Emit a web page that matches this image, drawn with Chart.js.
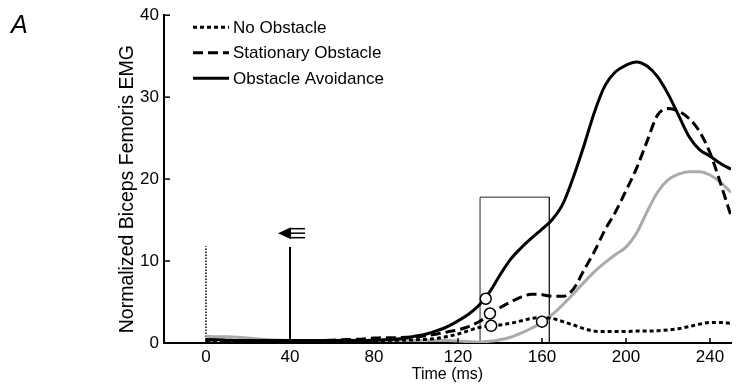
<!DOCTYPE html>
<html>
<head>
<meta charset="utf-8">
<script src="https://cdn.jsdelivr.net/npm/chart.js@4.4.1/dist/chart.umd.min.js"></script>
<style>
  body { margin: 0; background: #fff; }
  #wrap { position: relative; width: 738px; height: 386px; }
</style>
</head>
<body>
<div id="wrap"><canvas class="js-chart" width="738" height="386"></canvas></div>
<script>
const ctx = document.querySelector(".js-chart").getContext("2d");
const FONT = "'Liberation Sans', Arial, Helvetica, sans-serif";

// ===== data =====
const TIME_MS = [0, 5, 10, 15, 20, 25, 30, 35, 40, 45, 50, 55, 60, 65, 70, 75, 80, 85, 90, 95,
  100, 105, 110, 115, 120, 125, 130, 135, 140, 145, 150, 155, 160, 165, 170, 175, 180, 185, 190, 195,
  200, 205, 210, 215, 220, 225, 230, 235, 240, 245, 250];

const NO_OBSTACLE = [0.3, 0.3, 0.3, 0.3, 0.3, 0.3, 0.3, 0.3, 0.3, 0.3, 0.3, 0.3, 0.3, 0.3, 0.3, 0.3, 0.3, 0.3, 0.35, 0.35,
  0.4, 0.45, 0.55, 0.8, 1.1, 1.5, 1.9, 2.1, 2.2, 2.4, 2.7, 3.0, 3.1, 3.0, 2.6, 2.2, 1.75, 1.45, 1.4, 1.4,
  1.4, 1.45, 1.45, 1.5, 1.6, 1.75, 2.0, 2.3, 2.5, 2.5, 2.4];

const STATIONARY = [0.4, 0.35, 0.3, 0.3, 0.3, 0.3, 0.3, 0.3, 0.3, 0.3, 0.3, 0.3, 0.35, 0.4, 0.45, 0.5, 0.6, 0.65, 0.65, 0.7,
  0.75, 0.9, 1.1, 1.35, 1.6, 2.0, 2.6, 3.4, 4.3, 5.0, 5.6, 5.95, 5.9, 5.7, 5.7, 6.6, 8.9, 11.2, 13.8, 16.0,
  18.6, 21.3, 24.6, 27.8, 28.6, 28.3, 27.4, 25.8, 23.2, 19.5, 15.5];

const AVOIDANCE = [0.4, 0.4, 0.35, 0.3, 0.3, 0.3, 0.3, 0.3, 0.3, 0.3, 0.3, 0.3, 0.3, 0.3, 0.3, 0.3, 0.35, 0.4, 0.45, 0.6,
  0.85, 1.1, 1.5, 2.0, 2.7, 3.5, 4.6, 6.2, 8.3, 10.2, 11.6, 12.8, 13.9, 15.1, 17.0, 20.3, 24.1, 28.2, 31.4, 33.1,
  33.9, 34.3, 33.8, 32.5, 30.4, 27.8, 25.2, 23.6, 22.8, 21.9, 21.2];

const GREY_TRACE = [0.8, 0.75, 0.75, 0.7, 0.6, 0.5, 0.4, 0.35, 0.3, 0.3, 0.3, 0.3, 0.3, 0.35, 0.35, 0.3, 0.3, 0.3, 0.3, 0.3,
  0.3, 0.3, 0.3, 0.3, 0.25, 0.15, 0.1, 0.2, 0.4, 0.7, 1.2, 1.8, 2.5, 3.5, 4.7, 6.0, 7.4, 8.7, 9.8, 10.8,
  11.7, 13.4, 16.0, 18.4, 19.9, 20.6, 20.9, 20.9, 20.5, 19.6, 18.4];

// onset markers (open circles)
const MARKER_X = [133.2, 135.2, 135.8, 160];
const MARKER_Y = [5.4, 3.6, 2.1, 2.6];

// window box and event lines
const BOX_X = [130.5, 130.5, 163.5, 163.5];
const BOX_Y = [0, 17.8, 17.8, 0];
const ONSET_X = [0, 0];
const ONSET_Y = [0, 11.8];
const EVENT_X = [40, 40];
const EVENT_Y = [0, 11.7];
const EVENT_ICON_Y = 13.4;

const X_TICKS = [0, 40, 80, 120, 160, 200, 240];
const Y_TICKS = [0, 10, 20, 30, 40];
const LEGEND_LABELS = ["No Obstacle", "Stationary Obstacle", "Obstacle Avoidance"];
const Y_TITLE = "Normalized Biceps Femoris EMG";

const toPoints = (xs, ys) => xs.map((x, i) => ({ x, y: ys[i] }));

const traceStyle = {
  pointRadius: 0,
  borderWidth: 3,
  borderCapStyle: "butt",
  cubicInterpolationMode: "monotone",
  fill: false,
};

// ===== extra drawing: inside ticks, legend, event icon, titles =====
const overlay = {
  id: "overlay",
  afterDraw(chart) {
    const { ctx, chartArea, scales } = chart;
    const { x, y } = scales;
    ctx.save();
    ctx.strokeStyle = "#000";
    ctx.lineWidth = 1.5;
    X_TICKS.forEach((v) => {
      const px = x.getPixelForValue(v);
      ctx.beginPath();
      ctx.moveTo(px, chartArea.bottom);
      ctx.lineTo(px, chartArea.bottom - 5);
      ctx.stroke();
    });
    Y_TICKS.forEach((v) => {
      const py = y.getPixelForValue(v);
      ctx.beginPath();
      ctx.moveTo(chartArea.left, py);
      ctx.lineTo(chartArea.left + 6, py);
      ctx.stroke();
    });

    // event icon above the 40 ms line
    const ix = x.getPixelForValue(EVENT_X[0]);
    const iy = y.getPixelForValue(EVENT_ICON_Y);
    ctx.fillStyle = "#000";
    ctx.beginPath();
    ctx.moveTo(ix - 12, iy);
    ctx.lineTo(ix + 1, iy - 6);
    ctx.lineTo(ix + 1, iy + 6);
    ctx.closePath();
    ctx.fill();
    ctx.lineWidth = 1.5;
    [-4.5, 0, 4.5].forEach((d) => {
      ctx.beginPath();
      ctx.moveTo(ix + 1, iy + d);
      ctx.lineTo(ix + 15, iy + d);
      ctx.stroke();
    });

    // legend
    const lx = chartArea.left + 29;
    ctx.font = "17px " + FONT;
    ctx.textBaseline = "middle";
    ctx.textAlign = "left";
    LEGEND_LABELS.forEach((label, i) => {
      const ds = chart.data.datasets.find((d) => d.label === label);
      const ly = chartArea.top + 12 + i * 25.5;
      ctx.save();
      ctx.strokeStyle = ds.borderColor;
      ctx.lineWidth = ds.borderWidth;
      ctx.setLineDash(ds.borderDash || []);
      ctx.beginPath();
      ctx.moveTo(lx, ly);
      ctx.lineTo(lx + 36, ly);
      ctx.stroke();
      ctx.restore();
      ctx.fillStyle = "#000";
      ctx.fillText(label, lx + 40, ly + 1);
    });

    // y axis title (sits a little below the axis centre in the original)
    ctx.save();
    ctx.translate(chartArea.left - 36, (chartArea.top + chartArea.bottom) / 2 + 10);
    ctx.rotate(-Math.PI / 2);
    ctx.font = "19.5px " + FONT;
    ctx.textAlign = "center";
    ctx.textBaseline = "middle";
    ctx.fillText(Y_TITLE, 0, 0);
    ctx.restore();

    // panel letter
    ctx.font = "italic 25px " + FONT;
    ctx.textAlign = "left";
    ctx.textBaseline = "alphabetic";
    ctx.fillText("A", 11, 33);
    ctx.restore();
  },
};

new Chart(ctx, {
  type: "line",
  data: {
    datasets: [
      {
        type: "scatter",
        label: "onset",
        data: toPoints(MARKER_X, MARKER_Y),
        pointRadius: 5.5,
        pointBackgroundColor: "#fff",
        pointBorderColor: "#000",
        pointBorderWidth: 1.5,
        showLine: false,
        order: 0,
      },
      {
        ...traceStyle,
        label: "Obstacle Avoidance",
        data: toPoints(TIME_MS, AVOIDANCE),
        borderColor: "#000",
        order: 1,
      },
      {
        ...traceStyle,
        label: "Stationary Obstacle",
        data: toPoints(TIME_MS, STATIONARY),
        borderColor: "#000",
        borderDash: [10, 5],
        order: 2,
      },
      {
        ...traceStyle,
        label: "No Obstacle",
        data: toPoints(TIME_MS, NO_OBSTACLE),
        borderColor: "#000",
        borderDash: [4, 3],
        order: 3,
      },
      {
        ...traceStyle,
        label: "",
        data: toPoints(TIME_MS, GREY_TRACE),
        borderColor: "#aaaaaa",
        order: 4,
      },
      {
        label: "window",
        data: toPoints(BOX_X, BOX_Y),
        borderColor: "#222",
        borderWidth: 1,
        pointRadius: 0,
        tension: 0,
        order: 5,
      },
      {
        label: "onset line",
        data: toPoints(ONSET_X, ONSET_Y),
        borderColor: "#000",
        borderWidth: 1.5,
        borderDash: [1.5, 1.5],
        pointRadius: 0,
        order: 6,
      },
      {
        label: "event line",
        data: toPoints(EVENT_X, EVENT_Y),
        borderColor: "#000",
        borderWidth: 2,
        pointRadius: 0,
        order: 6,
      },
    ],
  },
  options: {
    responsive: false,
    animation: false,
    layout: { padding: { top: 14, right: 2, left: 0, bottom: 0 } },
    plugins: {
      legend: { display: false },
      tooltip: { enabled: false },
    },
    scales: {
      x: {
        type: "linear",
        min: -20,
        max: 250,
        afterBuildTicks(scale) {
          scale.ticks = X_TICKS.map((value) => ({ value }));
        },
        afterFit(scale) {
          scale.height = 43;
        },
        grid: { display: false, drawTicks: false },
        border: { display: true, color: "#000", width: 2 },
        ticks: {
          color: "#000",
          font: { family: FONT, size: 17 },
          padding: 4,
          maxRotation: 0,
          autoSkip: false,
        },
        title: {
          display: true,
          text: "Time (ms)",
          color: "#000",
          font: { family: FONT, size: 16 },
          padding: { top: 0, bottom: 2 },
        },
      },
      y: {
        min: 0,
        max: 40,
        afterBuildTicks(scale) {
          scale.ticks = Y_TICKS.map((value) => ({ value }));
        },
        afterFit(scale) {
          scale.width = 164;
        },
        grid: { display: false, drawTicks: false },
        border: { display: true, color: "#000", width: 2 },
        ticks: {
          color: "#000",
          font: { family: FONT, size: 17 },
          padding: 5,
        },
        title: { display: false },
      },
    },
  },
  plugins: [overlay],
});
</script>
</body>
</html>
